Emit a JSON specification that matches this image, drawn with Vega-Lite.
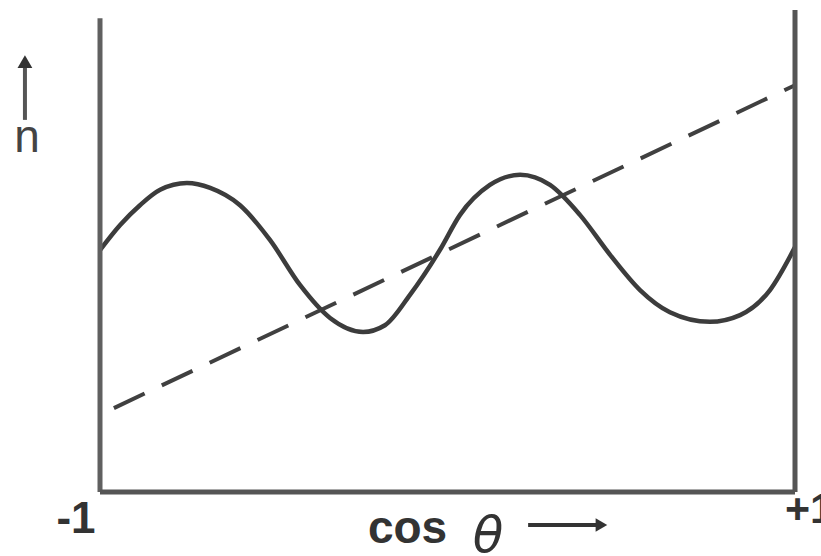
{
  "$schema": "https://vega.github.io/schema/vega-lite/v6.json",
  "width": 695,
  "height": 482,
  "autosize": "none",
  "padding": {"left": 100, "top": 10, "right": 26, "bottom": 64},
  "background": "white",
  "config": {"view": {"stroke": null}},
  "datasets": {
    "curve": [
      {"cos": -1.0, "n": 50.2},
      {"cos": -0.942, "n": 55.4},
      {"cos": -0.885, "n": 59.5},
      {"cos": -0.827, "n": 62.7},
      {"cos": -0.75, "n": 64.1},
      {"cos": -0.683, "n": 63.1},
      {"cos": -0.597, "n": 59.5},
      {"cos": -0.511, "n": 52.3},
      {"cos": -0.424, "n": 42.9},
      {"cos": -0.338, "n": 36.1},
      {"cos": -0.243, "n": 33.2},
      {"cos": -0.18, "n": 34.6},
      {"cos": -0.108, "n": 40.9},
      {"cos": -0.022, "n": 50.2},
      {"cos": 0.036, "n": 57.5},
      {"cos": 0.122, "n": 63.7},
      {"cos": 0.209, "n": 65.8},
      {"cos": 0.295, "n": 63.7},
      {"cos": 0.381, "n": 57.5},
      {"cos": 0.468, "n": 49.2},
      {"cos": 0.554, "n": 41.9},
      {"cos": 0.64, "n": 37.3},
      {"cos": 0.755, "n": 35.3},
      {"cos": 0.842, "n": 36.7},
      {"cos": 0.928, "n": 41.9},
      {"cos": 1.0, "n": 50.8}
    ],
    "dashed": [
      {"cos": -0.96, "n": 17.4},
      {"cos": 1.0, "n": 84.4}
    ]
  },
  "encoding": {
    "x": {"type": "quantitative", "scale": {"domain": [-1, 1], "nice": false, "zero": false}, "axis": null},
    "y": {"type": "quantitative", "scale": {"domain": [0, 100], "nice": false, "zero": false}, "axis": null}
  },
  "layer": [
    {
      "data": {"name": "dashed"},
      "mark": {"type": "line", "color": "#404040", "strokeWidth": 4, "strokeDash": [34, 19], "clip": false},
      "encoding": {"x": {"field": "cos", "type": "quantitative"}, "y": {"field": "n", "type": "quantitative"}}
    },
    {
      "data": {"name": "curve"},
      "mark": {"type": "line", "color": "#3c3c3c", "strokeWidth": 4.5, "interpolate": "monotone", "clip": false},
      "encoding": {"x": {"field": "cos", "type": "quantitative"}, "y": {"field": "n", "type": "quantitative"}}
    },
    {
      "data": {"values": [{}]},
      "layer": [
        {"mark": {"type": "rule", "color": "#606060", "strokeWidth": 5, "clip": false},
         "encoding": {"x": {"datum": -1}, "y": {"datum": 0}, "y2": {"datum": 98.3}}},
        {"mark": {"type": "rule", "color": "#555555", "strokeWidth": 5, "clip": false},
         "encoding": {"x": {"datum": 1}, "y": {"datum": 0}, "y2": {"datum": 100}}},
        {"mark": {"type": "rule", "color": "#555555", "strokeWidth": 5, "clip": false},
         "encoding": {"x": {"datum": -1}, "x2": {"datum": 1}, "y": {"datum": 0}}},
        {"mark": {"type": "text", "text": "-1", "font": "Liberation Sans", "fontWeight": "bold", "fontSize": 44, "align": "center", "baseline": "alphabetic", "dx": -24, "dy": 41, "color": "#333333"},
         "encoding": {"x": {"datum": -1}, "y": {"datum": 0}}},
        {"mark": {"type": "text", "text": "+1", "font": "Liberation Sans", "fontWeight": "bold", "fontSize": 43, "align": "left", "baseline": "alphabetic", "dx": -10, "dy": 31, "color": "#333333"},
         "encoding": {"x": {"datum": 1}, "y": {"datum": 0}}},
        {"mark": {"type": "text", "text": "cos", "font": "Liberation Sans", "fontWeight": "bold", "fontSize": 46, "align": "left", "baseline": "alphabetic", "dy": 51, "color": "#333333"},
         "encoding": {"x": {"datum": -0.229}, "y": {"datum": 0}}},
        {"mark": {"type": "text", "text": "θ", "font": "DejaVu Sans", "fontStyle": "italic", "fontSize": 50, "align": "center", "baseline": "alphabetic", "dy": 60, "color": "#333333"},
         "encoding": {"x": {"datum": 0.117}, "y": {"datum": 0}}},
        {"mark": {"type": "rule", "color": "#333333", "strokeWidth": 4, "clip": false},
         "encoding": {"x": {"datum": 0.232}, "x2": {"datum": 0.44}, "y": {"datum": -6.85}}},
        {"mark": {"type": "point", "shape": "triangle-right", "filled": true, "size": 180, "color": "#333333", "opacity": 1, "clip": false},
         "encoding": {"x": {"datum": 0.443}, "y": {"datum": -6.85}}},
        {"mark": {"type": "rule", "color": "#555555", "strokeWidth": 4, "clip": false},
         "encoding": {"x": {"datum": -1.216}, "y": {"datum": 77.2}, "y2": {"datum": 88.5}}},
        {"mark": {"type": "point", "shape": "triangle-up", "filled": true, "size": 220, "color": "#333333", "opacity": 1, "clip": false},
         "encoding": {"x": {"datum": -1.216}, "y": {"datum": 89.3}}},
        {"mark": {"type": "text", "text": "n", "font": "Liberation Sans", "fontSize": 46, "align": "center", "baseline": "alphabetic", "color": "#444444"},
         "encoding": {"x": {"datum": -1.21}, "y": {"datum": 70.5}}}
      ]
    }
  ]
}
